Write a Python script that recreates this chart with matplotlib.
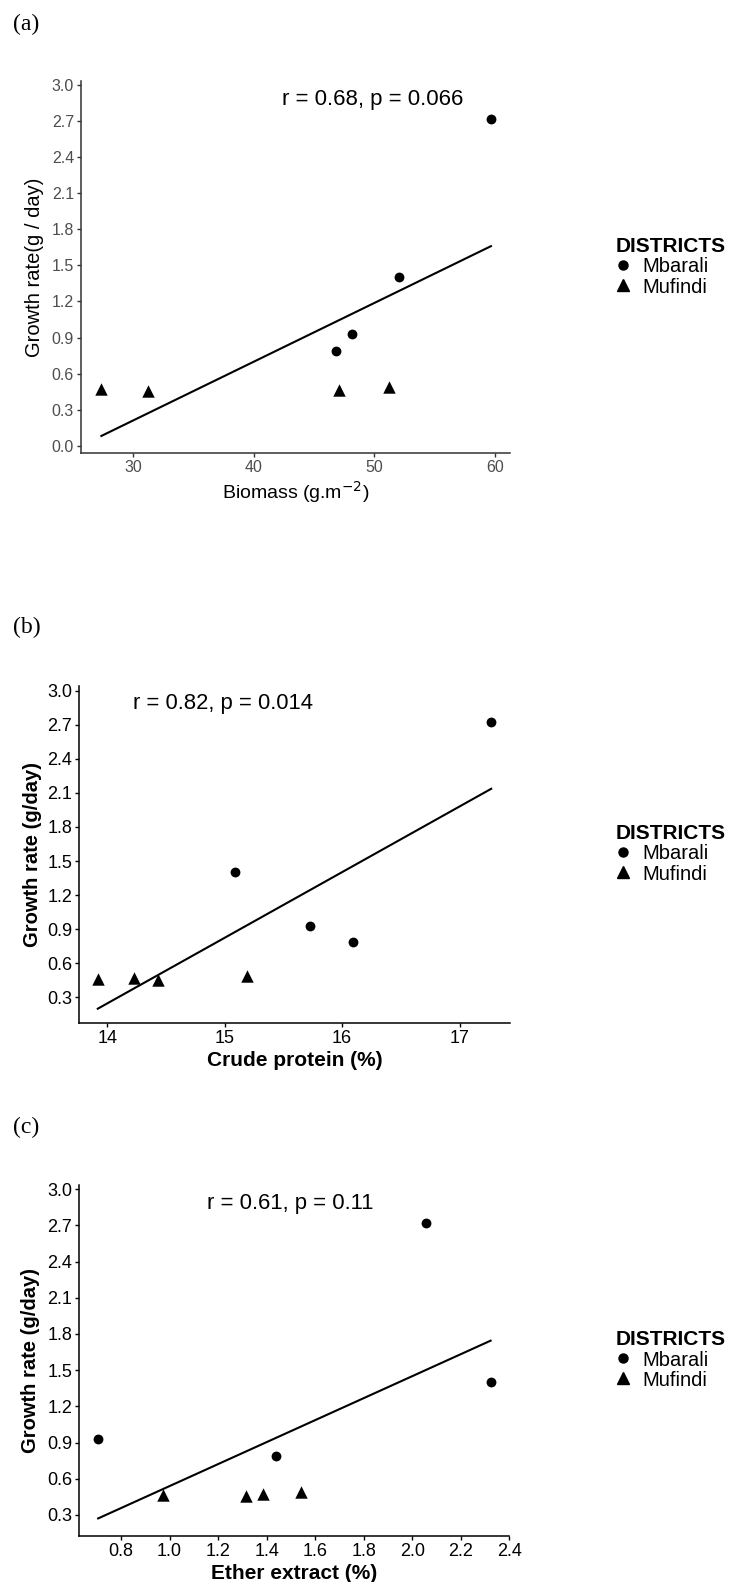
import numpy as np
import matplotlib
matplotlib.use("Agg")
import matplotlib.pyplot as plt
from matplotlib.lines import Line2D

plt.rcParams['font.family'] = ['Liberation Sans', 'DejaVu Sans']

W, H = 731, 1582

# ---- data ----
growth_mbarali = [2.72, 1.40, 0.93, 0.79]

biomass_mbarali = [59.66, 52.07, 48.15, 46.77]
biomass_mufindi = [27.35, 31.18, 47.08, 51.24]
growth_mufindi_a = [0.47, 0.455, 0.465, 0.49]

cp_mbarali = [17.27, 15.09, 15.73, 16.09]
cp_mufindi = [13.92, 14.23, 14.43, 15.19]
growth_mufindi_b = [0.465, 0.47, 0.455, 0.49]

ee_mbarali = [2.055, 2.323, 0.706, 1.439]
ee_mufindi = [0.974, 1.315, 1.385, 1.542]
growth_mufindi_c = [0.465, 0.455, 0.47, 0.49]

districts = ["Mbarali", "Mufindi"]
annotations = ["r = 0.68, p = 0.066", "r = 0.82, p = 0.014", "r = 0.61, p = 0.11"]
panel_labels = ["(a)", "(b)", "(c)"]

fig = plt.figure(figsize=(W / 100, H / 100), dpi=100)


def rect(l, t, r, b):
    return [l / W, 1 - b / H, (r - l) / W, (b - t) / H]


def panel(box, xm, ym, xf, yf, xlim, ylim, xticks, yticks, xlabel, ylabel,
          ann, ann_xy, ann_size, bold, tick_color, spine_color, tick_size,
          legend_y, label, label_y, ylab_x):
    ax = fig.add_axes(rect(*box))
    x_all = np.array(xm + xf)
    y_all = np.array(ym + yf)
    k, c = np.polyfit(x_all, y_all, 1)
    xs = np.linspace(x_all.min(), x_all.max(), 50)
    ax.plot(xs, k * xs + c, color='black', lw=1.5, zorder=2)
    ax.scatter(xm, ym, marker='o', s=50, color='black', zorder=3, linewidths=0)
    ax.scatter(xf, yf, marker='^', s=80, color='black', zorder=3, linewidths=0)
    ax.set_xlim(*xlim)
    ax.set_ylim(*ylim)
    ax.set_xticks(xticks)
    ax.set_yticks(yticks)
    if isinstance(xticks[0], float):
        ax.set_xticklabels([f"{v:.1f}" for v in xticks])
    ax.set_yticklabels([f"{v:.1f}" for v in yticks])
    for s in ['top', 'right']:
        ax.spines[s].set_visible(False)
    for s in ['left', 'bottom']:
        ax.spines[s].set_color(spine_color)
        ax.spines[s].set_linewidth(1.1)
    ax.tick_params(axis='both', length=3, width=1, color=spine_color,
                   labelsize=tick_size, labelcolor=tick_color, pad=2)
    weight = 'bold' if bold else 'normal'
    ax.set_xlabel(xlabel, fontsize=15 if bold else 14, fontweight=weight, labelpad=3)
    ax.set_ylabel(ylabel, fontsize=14.5, fontweight=weight)
    ax.yaxis.label.set_va('center')
    ax.yaxis.set_label_coords((ylab_x - box[0]) / (box[2] - box[0]), 0.5)
    fig.text(ann_xy[0] / W, 1 - ann_xy[1] / H, ann, fontsize=ann_size,
             ha='center', va='center')
    fig.text(13 / W, 1 - label_y / H, label, fontsize=17,
             family=['Liberation Serif', 'DejaVu Serif'], ha='left', va='center')
    handles = [Line2D([], [], marker='o', ls='', color='black', markersize=6.5),
               Line2D([], [], marker='^', ls='', color='black', markersize=8)]
    leg = fig.legend(handles, districts, loc='center left',
                     bbox_to_anchor=(616 / W, 1 - legend_y / H),
                     frameon=False, title='DISTRICTS', fontsize=14.5,
                     handlelength=0.7, handletextpad=0.6, labelspacing=0.05,
                     borderaxespad=0, borderpad=0)
    leg.get_title().set_fontweight('bold')
    leg.get_title().set_fontsize(15)
    leg._legend_box.align = 'left'
    return ax


panel((81, 80.7, 510, 453.3), biomass_mbarali, growth_mbarali, biomass_mufindi,
      growth_mufindi_a, (25.66, 61.24), (-0.063, 3.036), [30, 40, 50, 60],
      [round(0.3 * i, 1) for i in range(11)],
      r"Biomass (g.m$^{-2}$)", "Growth rate(g / day)", annotations[0], (373, 99),
      16, False, '#4D4D4D', '#333333', 11.5, 267, panel_labels[0], 24, 35)

panel((79, 686, 510, 1023), cp_mbarali, growth_mbarali, cp_mufindi,
      growth_mufindi_b, (13.76, 17.43), (0.074, 3.041), [14, 15, 16, 17],
      [round(0.3 * i, 1) for i in range(1, 11)],
      "Crude protein (%)", "Growth rate (g/day)", annotations[1], (223, 703),
      15.8, True, 'black', 'black', 13, 854, panel_labels[1], 627, 32)

panel((79, 1185, 509.3, 1535.7), ee_mbarali, growth_mbarali, ee_mufindi,
      growth_mufindi_c, (0.627, 2.40), (0.128, 3.035),
      [0.8, 1.0, 1.2, 1.4, 1.6, 1.8, 2.0, 2.2, 2.4],
      [round(0.3 * i, 1) for i in range(1, 11)],
      "Ether extract (%)", "Growth rate (g/day)", annotations[2], (290, 1203),
      15.9, True, 'black', 'black', 13, 1360, panel_labels[2], 1127, 31)

fig.savefig("out.png", dpi=100)
